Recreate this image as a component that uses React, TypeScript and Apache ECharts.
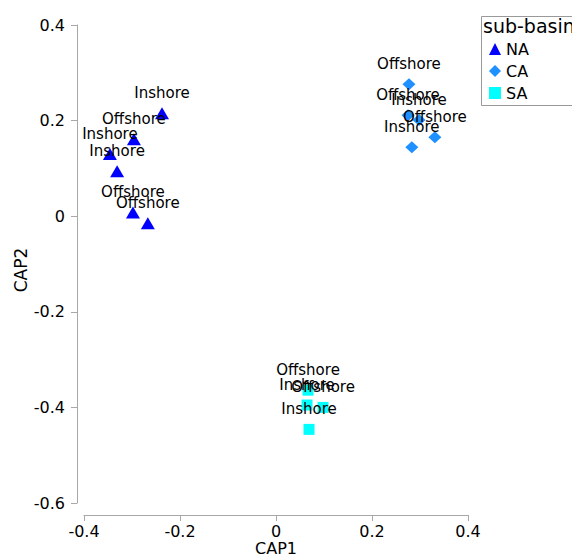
import React, { useEffect, useRef } from "react";
import * as echarts from "echarts";

const groups = ["NA", "CA", "SA"];

const naPoints: [number, number, string][] = [
  [-0.2375, 0.2155, "Inshore"],
  [-0.296, 0.161, "Offshore"],
  [-0.346, 0.13, "Inshore"],
  [-0.331, 0.094, "Inshore"],
  [-0.298, 0.008, "Offshore"],
  [-0.267, -0.015, "Offshore"],
];

const caPoints: [number, number, string][] = [
  [0.277, 0.276, "Offshore"],
  [0.275, 0.211, "Offshore"],
  [0.298, 0.201, "Inshore"],
  [0.331, 0.165, "Offshore"],
  [0.283, 0.144, "Inshore"],
];

const saPoints: [number, number, string][] = [
  [0.0667, -0.364, "Offshore"],
  [0.0646, -0.395, "Inshore"],
  [0.098, -0.4, "Offshore"],
  [0.0688, -0.446, "Inshore"],
];

const xTicks = { min: -0.4, max: 0.4, interval: 0.2 };
const yTicks = { min: -0.6, max: 0.4, interval: 0.2 };

const FONT = "DejaVu Sans";
const AXIS_GRAY = "#a8a8a8";

export default function App() {
  const ref = useRef<HTMLDivElement>(null);

  useEffect(() => {
    document.body.style.margin = "0";
    if (!ref.current) return;
    const chart = echarts.init(ref.current, null, { renderer: "svg" });

    const labelCfg = {
      show: true,
      position: "inside",
      offset: [0, -20],
      color: "#000",
      fontFamily: FONT,
      fontSize: 15,
      formatter: (p: any) => p.value[2],
    };

    const axisCommon = {
      type: "value",
      splitLine: { show: false },
      axisLine: { show: true, onZero: false, lineStyle: { color: AXIS_GRAY, width: 1 } },
      axisTick: { show: true, inside: false, length: 6, lineStyle: { color: AXIS_GRAY } },
    };

    chart.setOption({
      animation: false,
      backgroundColor: "#fff",
      grid: {
        left: 84,
        right: 104,
        top: 25,
        bottom: 57,
        containLabel: false,
        outerBoundsMode: "none",
      },
      xAxis: {
        ...axisCommon,
        min: xTicks.min,
        max: xTicks.max,
        interval: xTicks.interval,
        offset: 12,
        name: "CAP1",
        nameLocation: "middle",
        nameGap: 25,
        nameMoveOverlap: false,
        nameTextStyle: { color: "#000", fontFamily: FONT, fontSize: 16 },
        axisLabel: { color: "#000", fontFamily: FONT, fontSize: 16, margin: 8 },
      },
      yAxis: {
        ...axisCommon,
        min: yTicks.min,
        max: yTicks.max,
        interval: yTicks.interval,
        offset: 7,
        name: "CAP2",
        nameLocation: "middle",
        nameGap: 48,
        nameMoveOverlap: false,
        nameTextStyle: { color: "#000", fontFamily: FONT, fontSize: 17, padding: [0, 12, 0, 0] },
        axisLabel: { color: "#000", fontFamily: FONT, fontSize: 16, margin: 12 },
      },
      legend: {
        orient: "vertical",
        left: 489,
        top: 41,
        padding: 0,
        itemWidth: 12,
        itemHeight: 12,
        itemGap: 6,
        textStyle: { color: "#000", fontFamily: FONT, fontSize: 16 },
        data: [
          { name: groups[0], icon: "triangle" },
          { name: groups[1], icon: "diamond" },
          { name: groups[2], icon: "rect" },
        ],
      },
      graphic: [
        {
          type: "rect",
          left: 481,
          top: 16,
          shape: { width: 130, height: 89 },
          style: { fill: "#fff", stroke: "#999", lineWidth: 1 },
          z: -1,
        },
        {
          type: "text",
          left: 483,
          top: 16,
          style: { text: "sub-basin", fill: "#000", font: `19px "${FONT}"` },
        },
      ],
      series: [
        {
          name: groups[0],
          type: "scatter",
          symbol: "triangle",
          symbolSize: [14, 12],
          itemStyle: { color: "#0000ff", opacity: 1 },
          label: labelCfg,
          data: naPoints,
        },
        {
          name: groups[1],
          type: "scatter",
          symbol: "diamond",
          symbolSize: [13, 12],
          itemStyle: { color: "#1e90ff", opacity: 1 },
          label: labelCfg,
          data: caPoints,
        },
        {
          name: groups[2],
          type: "scatter",
          symbol: "rect",
          symbolSize: [11, 11],
          itemStyle: { color: "#00ffff", opacity: 1 },
          label: labelCfg,
          data: saPoints,
        },
      ],
    });

    return () => chart.dispose();
  }, []);

  return <div ref={ref} style={{ width: 572, height: 560 }} />;
}
